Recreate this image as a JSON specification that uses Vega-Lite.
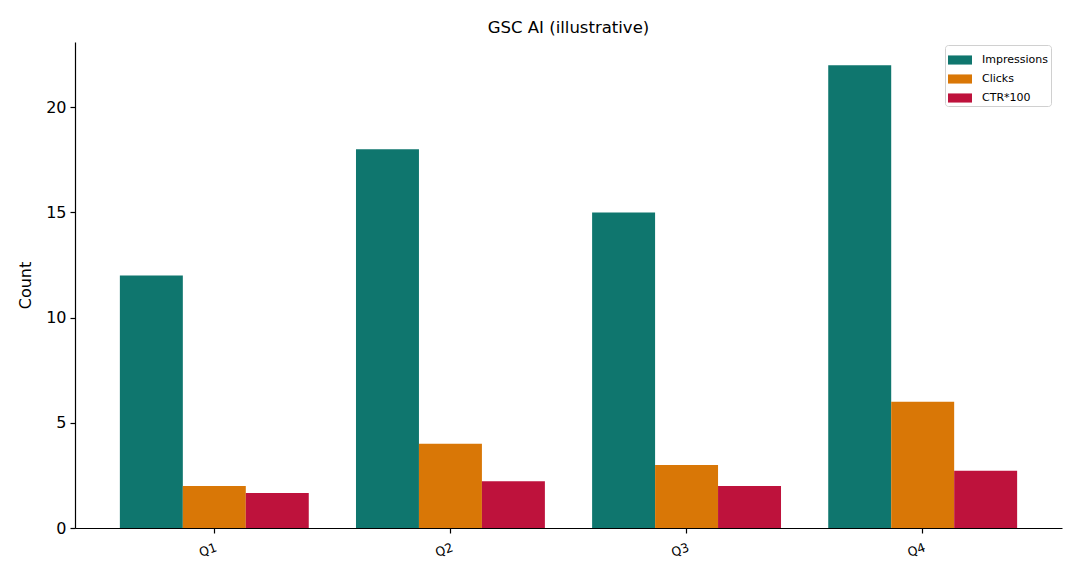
{
  "$schema": "https://vega.github.io/schema/vega-lite/v6.json",
  "width": 987,
  "height": 486,
  "autosize": "none",
  "padding": {"left": 75, "top": 42, "right": 18, "bottom": 48},
  "background": "white",
  "title": {"text": "GSC AI (illustrative)", "fontSize": 16.5, "font": "DejaVu Sans", "fontWeight": "normal", "color": "black", "offset": 6},
  "data": {"values": [
    {"quarter": "Q1", "metric": "Impressions", "value": 12},
    {"quarter": "Q1", "metric": "Clicks", "value": 2},
    {"quarter": "Q1", "metric": "CTR*100", "value": 1.667},
    {"quarter": "Q2", "metric": "Impressions", "value": 18},
    {"quarter": "Q2", "metric": "Clicks", "value": 4},
    {"quarter": "Q2", "metric": "CTR*100", "value": 2.222},
    {"quarter": "Q3", "metric": "Impressions", "value": 15},
    {"quarter": "Q3", "metric": "Clicks", "value": 3},
    {"quarter": "Q3", "metric": "CTR*100", "value": 2.0},
    {"quarter": "Q4", "metric": "Impressions", "value": 22},
    {"quarter": "Q4", "metric": "Clicks", "value": 6},
    {"quarter": "Q4", "metric": "CTR*100", "value": 2.727}
  ]},
  "mark": {"type": "bar"},
  "encoding": {
    "x": {
      "field": "quarter", "type": "nominal",
      "scale": {"paddingInner": 0.2, "paddingOuter": 0.19},
      "axis": {"title": null, "labelAngle": -20, "labelAlign": "right", "labelBaseline": "top", "labelFontSize": 12.5, "labelPadding": 8, "tickSize": 5}
    },
    "xOffset": {
      "field": "metric", "type": "nominal",
      "sort": ["Impressions", "Clicks", "CTR*100"],
      "scale": {"paddingInner": 0, "paddingOuter": 0}
    },
    "y": {
      "field": "value", "type": "quantitative",
      "scale": {"domain": [0, 23.1], "nice": false},
      "axis": {"title": "Count", "values": [0, 5, 10, 15, 20], "labelFontSize": 16, "titleFontSize": 16, "titleFontWeight": "normal", "tickSize": 5, "labelPadding": 4, "titlePadding": 12}
    },
    "color": {
      "field": "metric", "type": "nominal",
      "sort": ["Impressions", "Clicks", "CTR*100"],
      "scale": {"domain": ["Impressions", "Clicks", "CTR*100"], "range": ["#0f766e", "#d97706", "#be123c"]},
      "legend": {
        "title": null, "orient": "none", "legendX": 870, "legendY": 3,
        "symbolType": "M-1,-0.38L1,-0.38L1,0.38L-1,0.38Z", "symbolSize": 576, "symbolStrokeWidth": 0,
        "labelFont": "DejaVu Sans", "labelFontSize": 11, "labelColor": "black", "labelOffset": 10,
        "strokeColor": "#d0d0d0", "fillColor": "white", "cornerRadius": 3, "padding": 3, "rowPadding": 2
      }
    }
  },
  "config": {
    "view": {"stroke": null},
    "font": "DejaVu Sans",
    "axis": {"grid": false, "domainColor": "black", "tickColor": "black", "labelColor": "black", "titleColor": "black", "labelFont": "DejaVu Sans", "titleFont": "DejaVu Sans", "domainWidth": 1.2, "tickWidth": 1.2}
  }
}
